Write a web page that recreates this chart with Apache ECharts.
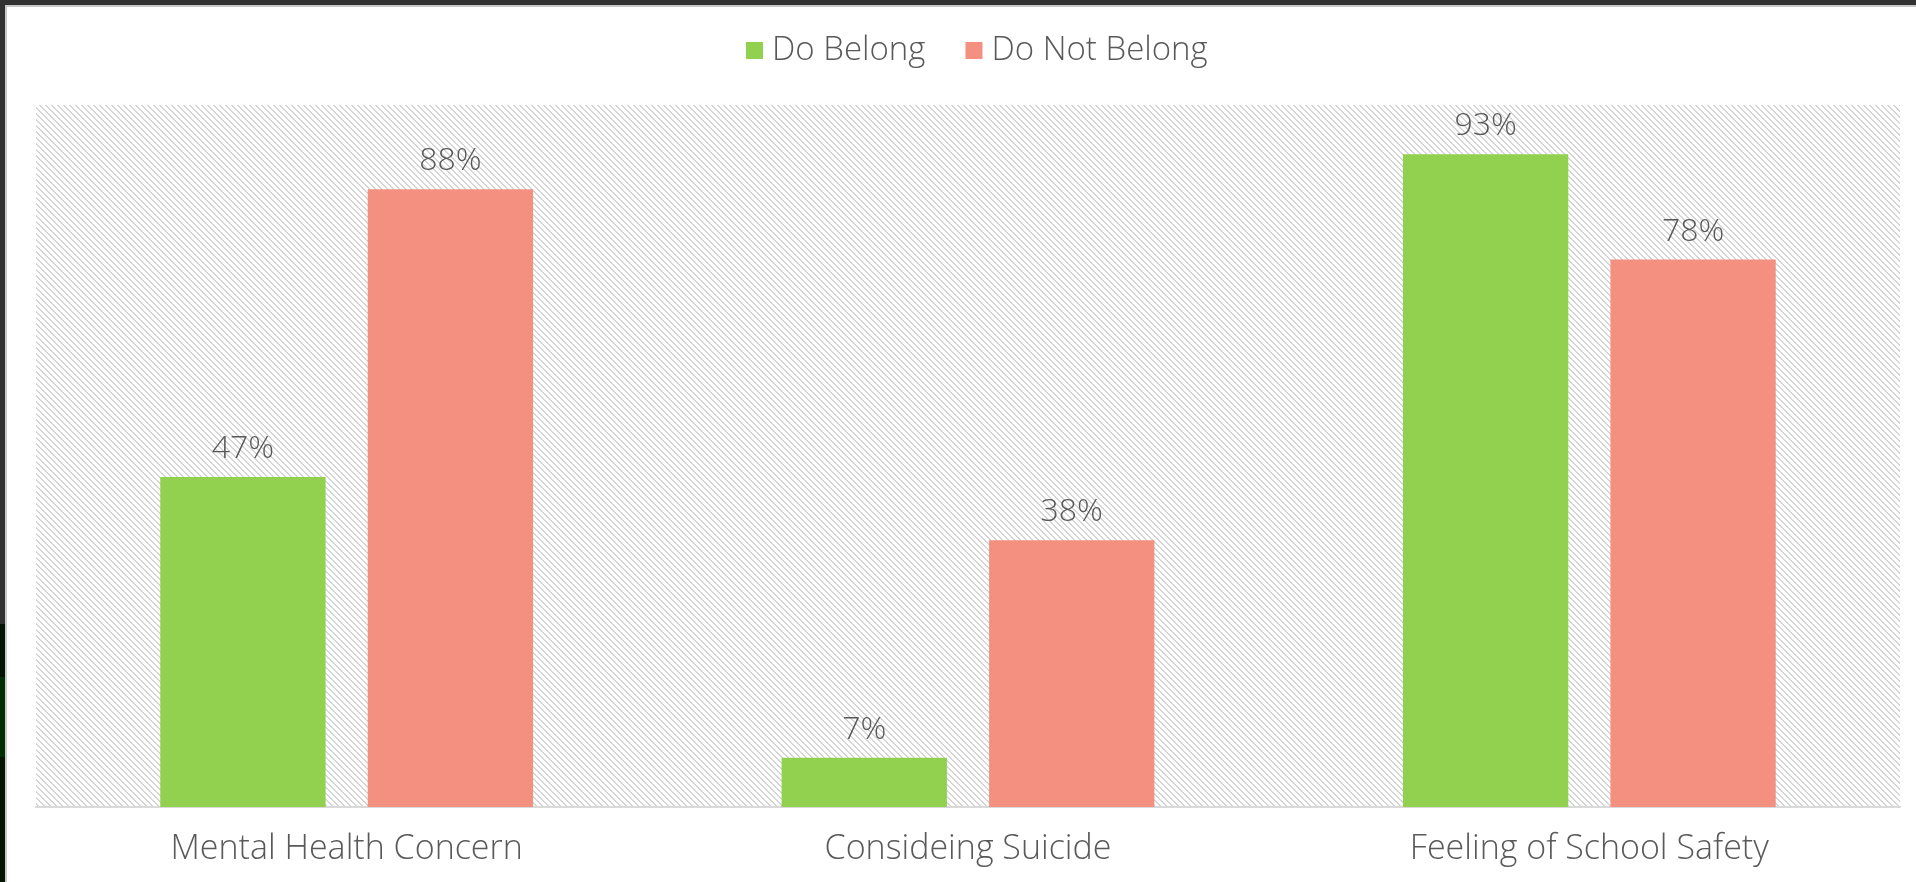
<!DOCTYPE html>
<html>
<head>
<meta charset="utf-8">
<script src="https://cdn.jsdelivr.net/npm/echarts@6/dist/echarts.min.js"></script>
<style>
html,body{margin:0;padding:0;background:#fff;}
#chart{width:1916px;height:882px;}
</style>
</head>
<body>
<div id="chart"></div>
<script>
const categories = ['Mental Health Concern', 'Consideing Suicide', 'Feeling of School Safety'];
const doBelong = [47, 7, 93];
const doNotBelong = [88, 38, 78];
const seriesNames = ['Do Belong', 'Do Not Belong'];

// hatch pattern tile
const tile = document.createElement('canvas');
tile.width = 6; tile.height = 6;
const tctx = tile.getContext('2d');
tctx.fillStyle = '#ffffff';
tctx.fillRect(0, 0, 6, 6);
tctx.fillStyle = '#d6d6d6';
for (let i = 0; i < 6; i++) {
  tctx.fillRect(i, i, 1, 1);
  tctx.fillRect((i + 1) % 6, i, 1, 1);
}

const FONT = '"Open Sans"';
const chart = echarts.init(document.getElementById('chart'), null, {renderer: 'canvas'});
chart.setOption({
  animation: false,
  backgroundColor: '#ffffff',
  textStyle: {fontFamily: FONT},
  legend: {
    data: seriesNames,
    top: 29,
    left: 741,
    itemWidth: 17,
    itemHeight: 17,
    itemGap: 40,
    icon: 'rect',
    textStyle: {fontSize: 33, fontWeight: 300, color: '#595959', fontFamily: FONT, padding: [0, 0, 0, 4]}
  },
  grid: {
    left: 36, right: 16, top: 105, bottom: 75,
    show: true,
    borderWidth: 0,
    backgroundColor: {image: tile, repeat: 'repeat'}
  },
  xAxis: {
    type: 'category',
    data: categories,
    axisLine: {lineStyle: {color: '#d9d9d9', width: 2}},
    axisTick: {show: false},
    axisLabel: {fontSize: 34, fontWeight: 300, color: '#595959', margin: 25, fontFamily: FONT}
  },
  yAxis: {
    type: 'value', min: 0, max: 100, show: false,
    splitLine: {show: false}
  },
  series: [
    {
      name: seriesNames[0], type: 'bar', data: doBelong,
      itemStyle: {color: '#92D050'},
      barGap: '25.5%', barCategoryGap: '40%',
      label: {show: true, position: 'top', distance: 12, formatter: '{c}%', fontSize: 32, fontWeight: 300, color: '#595959', fontFamily: FONT}
    },
    {
      name: seriesNames[1], type: 'bar', data: doNotBelong,
      itemStyle: {color: '#F49080'},
      barGap: '25.5%', barCategoryGap: '40%',
      label: {show: true, position: 'top', distance: 12, formatter: '{c}%', fontSize: 32, fontWeight: 300, color: '#595959', fontFamily: FONT}
    }
  ],
  graphic: [
    {type: 'rect', left: 0, top: 0, shape: {width: 1916, height: 5}, style: {fill: '#323232'}, silent: true},
    {type: 'rect', left: 0, top: 5, shape: {width: 1916, height: 2}, style: {fill: '#c8c8c8'}, silent: true},
    {type: 'rect', left: 0, top: 0, shape: {width: 5, height: 882}, style: {fill: '#323232'}, silent: true},
    {type: 'rect', left: 0, top: 624, shape: {width: 5, height: 53}, style: {fill: '#021402'}, silent: true},
    {type: 'rect', left: 0, top: 677, shape: {width: 5, height: 80}, style: {fill: '#032d03'}, silent: true},
    {type: 'rect', left: 0, top: 757, shape: {width: 5, height: 125}, style: {fill: '#021602'}, silent: true},
    {type: 'rect', left: 5, top: 5, shape: {width: 2, height: 877}, style: {fill: '#c8c8c8'}, silent: true}
  ]
});
</script>
</body>
</html>
